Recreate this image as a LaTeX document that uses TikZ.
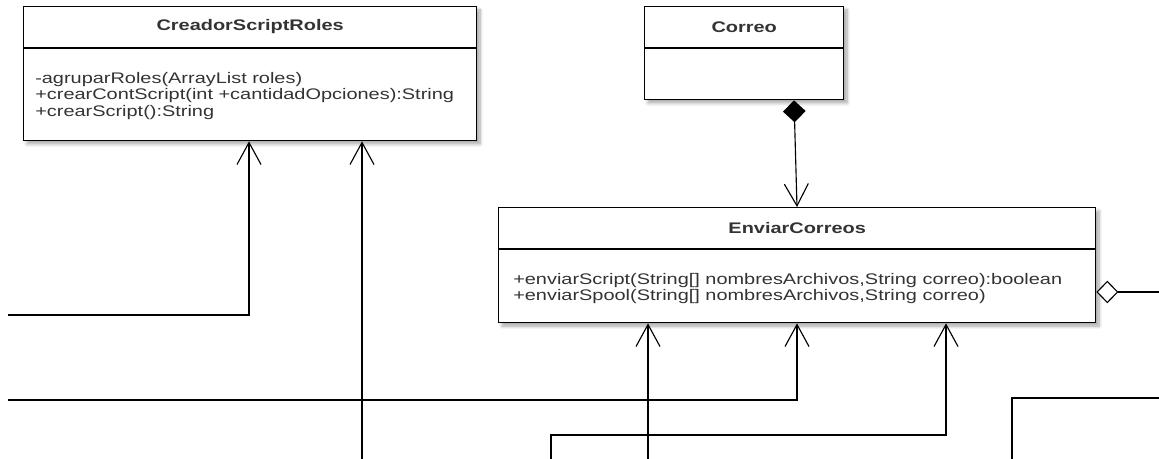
\documentclass[tikz,border=0pt]{standalone}
\usepackage{fontspec}
\setmainfont{Liberation Sans}[FakeStretch=1.3]
\usetikzlibrary{arrows.meta,shadows.blur,calc}
\definecolor{txt}{HTML}{333333}
\begin{document}
\begin{tikzpicture}[x=0.75pt,y=-0.75pt,
  umlbox/.style={draw=black,line width=1pt,fill=white,inner sep=0pt,anchor=north west,
    blur shadow={shadow xshift=2.5pt,shadow yshift=-2.5pt,shadow blur radius=2.5pt,shadow blur steps=8,shadow opacity=35}},
  divider/.style={draw=black,line width=1pt},
  ttl/.style={font=\fontsize{11.5pt}{12.5pt}\selectfont\bfseries,text=txt,inner sep=0pt},
  body/.style={font=\fontsize{11.5pt}{12.5pt}\selectfont,text=txt,align=left,anchor=west,inner sep=0pt},
  conn/.style={line width=0.85pt,draw=black},
  barb/.tip={Straight Barb[length=16.5pt,width=18pt]},
  dep/.style={conn,-barb},
]
\useasboundingbox (0,0) rectangle (1159,459);

% CreadorScriptRoles
\node[umlbox,minimum width=339.75pt,minimum height=100.5pt] (cre) at (23,6) {};
\draw[divider] ($(cre.north west)+(0,42)$) -- ($(cre.north east)+(0,42)$);
\node[ttl] (creT) at ($(cre.north)+(0,21)$) {CreadorScriptRoles};
\node[body] (creB) at ($(cre.north west)+(12,90)$) {-agruparRoles(ArrayList roles)\\+crearContScript(int +cantidadOpciones):String\\+crearScript():String};

% Correo
\node[umlbox,minimum width=149.25pt,minimum height=69.75pt] (cor) at (644,6) {};
\draw[divider] ($(cor.north west)+(0,42)$) -- ($(cor.north east)+(0,42)$);
\node[ttl] (corT) at ($(cor.north)+(0,21)$) {Correo};

% EnviarCorreos
\node[umlbox,minimum width=447.75pt,minimum height=86.25pt] (env) at (498,207) {};
\draw[divider] ($(env.north west)+(0,42)$) -- ($(env.north east)+(0,42)$);
\node[ttl] (envT) at ($(env.north)+(0,21)$) {EnviarCorreos};
\node[body] (envB) at ($(env.north west)+(15,81.5)$) {+enviarScript(String[] nombresArchivos,String correo):boolean\\+enviarSpool(String[] nombresArchivos,String correo)};

% free ends
\coordinate (fA) at (8,315);
\coordinate (fB) at (362,459);
\coordinate (fC) at (648,459);
\coordinate (fD) at (8,400);
\coordinate (fE) at (551,459);
\coordinate (kE) at (946,435);
\coordinate (fF1) at (1159,398);
\coordinate (fF2) at (1012,459);
\coordinate (fG) at (1159,292);

% connectors
\draw[dep] (fA) -| ($(cre.south west)+(226,0)$);
\draw[dep] (fB) -- ($(cre.south west)+(339,0)$);
\draw[dep] (fC) -- ($(env.south west)+(150,0)$);
\draw[dep] (fD) -| ($(env.south west)+(299,0)$);
\draw[dep] (fE) |- (kE) -- ($(env.south west)+(448,0)$);
\draw[conn] (fF1) -| (fF2);
\draw[conn,{Diamond[length=16.5pt,width=17pt]}-barb] ($(cor.south west)+(150,0)$) -- ($(env.north west)+(299,0)$);
\draw[conn,{Diamond[open,fill=white,length=16.5pt,width=17pt]}-] ($(env.north east)+(0,85)$) -- (fG);
\end{tikzpicture}
\end{document}
